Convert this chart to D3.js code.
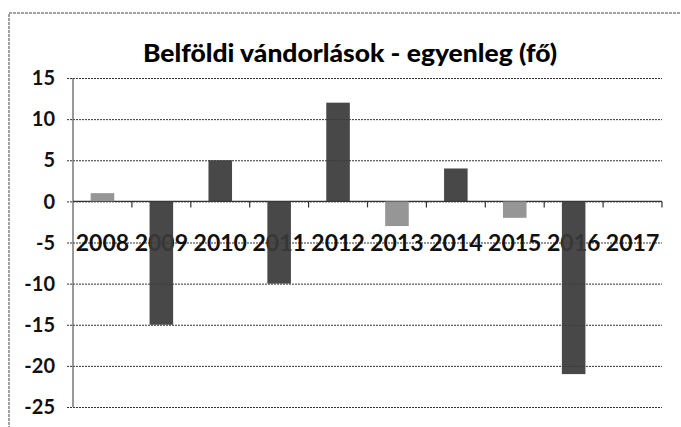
<!DOCTYPE html>
<html><head><meta charset="utf-8">
<script src="https://cdn.jsdelivr.net/npm/d3@7"></script>
<style>body{margin:0;background:#fff}svg{display:block}</style>
</head><body>
<script>
const title = "Belföldi vándorlások - egyenleg (fő)";
const years = ["2008","2009","2010","2011","2012","2013","2014","2015","2016","2017"];
const values = [1, -15, 5, -10, 12, -3, 4, -2, -21, 0];
const shade = ["light","dark","dark","dark","dark","light","dark","light","dark","dark"];
const yTicks = [15, 10, 5, 0, -5, -10, -15, -20, -25];
const labelLevel = -5;

const W = 681, H = 427;
const svg = d3.select("body").append("svg").attr("width", W).attr("height", H);

// outer frame
svg.append("path").attr("d", `M9,${H+2}V13H${W+2}`).attr("fill","none")
  .attr("stroke","#444").attr("stroke-width",1).attr("stroke-dasharray","3,1");

const left = 73, right = 662;
const y = d3.scaleLinear().domain([-25, 15]).range([407, 78]);
const x = d3.scaleBand().domain(years).range([left, right]).padding(0);

// gridlines
svg.append("g").attr("transform", `translate(${left},0)`)
  .call(d3.axisLeft(y).tickValues(yTicks).tickSize(-(right-left)).tickSizeOuter(0).tickPadding(0).tickFormat(""))
  .call(g => g.select(".domain").remove())
  .call(g => g.selectAll(".tick line").attr("x1", -6).attr("stroke","#333").attr("stroke-width",1).attr("stroke-dasharray","2,1"));

// y axis line
svg.append("line").attr("x1", left).attr("x2", left).attr("y1", y(15)).attr("y2", y(-25))
  .attr("stroke","#555").attr("stroke-width",1.2);

// y tick labels
svg.append("g").selectAll("text").data(yTicks).join("text")
  .attr("x", 55).attr("y", d => y(d)).attr("dy","0.36em")
  .attr("text-anchor","end")
  .attr("font-family","Lato, 'Open Sans', sans-serif").attr("font-weight","bold")
  .attr("font-size", 20).attr("fill","#111")
  .text(d => d);

// category labels
svg.append("g").selectAll("text").data(years).join("text")
  .attr("x", d => x(d) + x.bandwidth()/2).attr("y", y(labelLevel)).attr("dy","0.36em")
  .attr("text-anchor","middle")
  .attr("font-family","Lato, 'Open Sans', sans-serif").attr("font-weight","bold")
  .attr("font-size", 23).attr("fill","#111")
  .text(d => d);

// zero axis with ticks at category boundaries
svg.append("line").attr("x1", left).attr("x2", right).attr("y1", y(0)).attr("y2", y(0))
  .attr("stroke","#333").attr("stroke-width",1.2);
svg.append("g").selectAll("line").data(years).join("line")
  .attr("x1", d => x(d) + x.bandwidth()).attr("x2", d => x(d) + x.bandwidth())
  .attr("y1", y(0)).attr("y2", y(0) + 6)
  .attr("stroke","#333").attr("stroke-width",1.2);

// bars
const bw = x.bandwidth() * 0.4;
svg.append("g").selectAll("rect").data(years).join("rect")
  .attr("x", d => x(d) + (x.bandwidth() - bw)/2)
  .attr("width", bw)
  .attr("y", (d,i) => y(Math.max(0, values[i])))
  .attr("height", (d,i) => Math.abs(y(values[i]) - y(0)))
  .attr("fill", (d,i) => shade[i] === "dark" ? "#3a3a3a" : "#8e8e8e")
  .attr("fill-opacity", 0.93);

// title
svg.append("text").attr("x", 350).attr("y", 62).attr("text-anchor","middle")
  .attr("font-family","Lato, 'Open Sans', sans-serif").attr("font-weight","900")
  .attr("font-size", 25).attr("fill","#000")
  .attr("textLength", 414).attr("lengthAdjust","spacingAndGlyphs")
  .text(title);
</script>
</body></html>
